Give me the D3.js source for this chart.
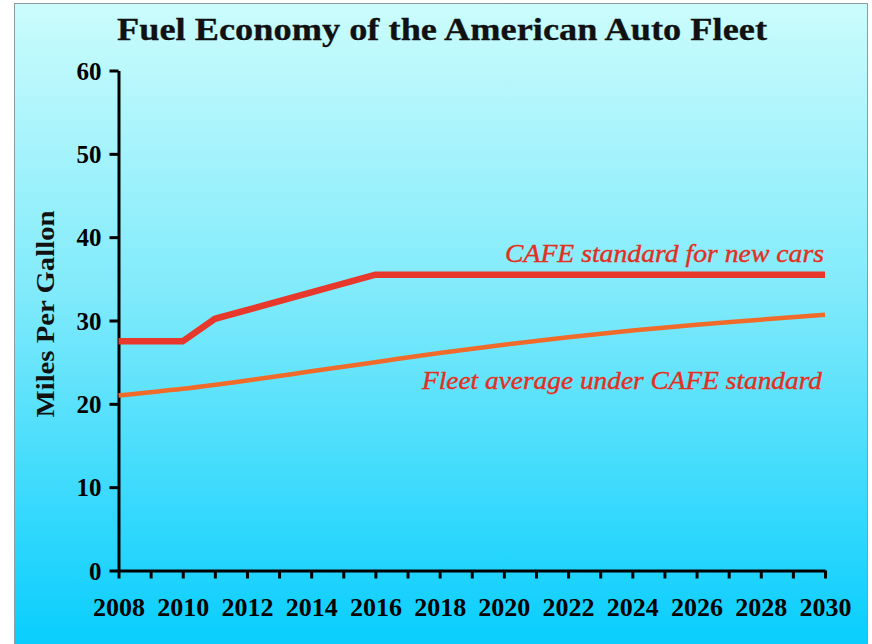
<!DOCTYPE html>
<html>
<head>
<meta charset="utf-8">
<script src="https://cdn.jsdelivr.net/npm/d3@7"></script>
<style>
  html, body { margin: 0; padding: 0; background: #ffffff; }
  svg { display: block; }
  text { font-family: "Liberation Serif", "DejaVu Serif", serif; }
</style>
</head>
<body>
<svg id="chart" width="872" height="644"></svg>
<script>
// Model years on the horizontal axis
const years = d3.range(2008, 2031);
const yearLabels = d3.range(2008, 2031, 2);
const mpgTicks = [0, 10, 20, 30, 40, 50, 60];

// CAFE standard for new cars (mpg)
const cafeYears = [2008, 2010, 2011, 2016, 2030];
const cafeMpg   = [27.5, 27.5, 30.2, 35.5, 35.5];

// Fleet average under the CAFE standard (mpg)
const fleetYears = [2008, 2010, 2012, 2014, 2016, 2018, 2020, 2022, 2024, 2026, 2028, 2030];
const fleetMpg   = [21.0, 21.8, 22.8, 23.9, 25.0, 26.1, 27.1, 28.0, 28.8, 29.5, 30.1, 30.7];

const svg = d3.select("#chart");

// Backdrop panel with vertical cyan gradient
const defs = svg.append("defs");
const grad = defs.append("linearGradient")
  .attr("id", "bg").attr("x1", 0).attr("y1", 0).attr("x2", 0).attr("y2", 1);
grad.append("stop").attr("offset", "0%").attr("stop-color", "#cbfcfc");
grad.append("stop").attr("offset", "45%").attr("stop-color", "#7feafb");
grad.append("stop").attr("offset", "100%").attr("stop-color", "#05cdfd");

svg.append("rect")
  .attr("x", 14.5).attr("y", 3.5).attr("width", 853).attr("height", 650)
  .attr("fill", "url(#bg)")
  .attr("stroke", "#8c9c9e").attr("stroke-width", 1);

const x = d3.scaleLinear().domain([2008, 2030]).range([118.5, 825]);
const y = d3.scaleLinear().domain([0, 60]).range([570.5, 70.5]);

// Fit a text element to a given width
function fit(sel, w) {
  sel.attr("textLength", w).attr("lengthAdjust", "spacingAndGlyphs");
  return sel;
}

// Title
fit(svg.append("text")
  .attr("x", 442).attr("y", 40)
  .attr("text-anchor", "middle")
  .attr("font-size", 31).attr("font-weight", "bold").attr("fill", "#111")
  .attr("stroke", "#111").attr("stroke-width", 0.3)
  .text("Fuel Economy of the American Auto Fleet"), 650);

// Y axis
const yAxis = svg.append("g")
  .attr("transform", `translate(${x.range()[0]},0)`)
  .call(d3.axisLeft(y).tickValues(mpgTicks).tickSize(9).tickPadding(8).tickSizeOuter(0));
yAxis.select(".domain").attr("stroke", "#000").attr("stroke-width", 3);
yAxis.selectAll(".tick line").attr("stroke", "#000").attr("stroke-width", 3);
yAxis.selectAll(".tick text")
  .attr("font-family", "Liberation Serif, serif")
  .attr("font-size", 25).attr("font-weight", "bold").attr("fill", "#000")
  .attr("dy", "0.34em");

// X axis: a tick every year, labels every other year
const xAxis = svg.append("g")
  .attr("transform", `translate(0,${y(0)})`)
  .call(d3.axisBottom(x).tickValues(years).tickSize(8).tickSizeOuter(0)
    .tickFormat(d => (yearLabels.includes(d) ? d3.format("d")(d) : "")));
xAxis.select(".domain").attr("stroke", "#000").attr("stroke-width", 3);
xAxis.selectAll(".tick line").attr("stroke", "#000").attr("stroke-width", 3);
xAxis.selectAll(".tick text")
  .attr("font-family", "Liberation Serif, serif")
  .attr("font-size", 26).attr("font-weight", "bold").attr("fill", "#000")
  .attr("y", 27).attr("dy", "0.71em");

// Y axis title
fit(svg.append("text")
  .attr("transform", "translate(54,314) rotate(-90)")
  .attr("text-anchor", "middle")
  .attr("font-size", 26).attr("font-weight", "bold").attr("fill", "#111")
  .text("Miles Per Gallon"), 207);

const line = d3.line().x(d => x(d[0])).y(d => y(d[1]));

// Fleet average line
svg.append("path")
  .datum(d3.zip(fleetYears, fleetMpg))
  .attr("d", line.curve(d3.curveMonotoneX))
  .attr("fill", "none").attr("stroke", "#f06a2a").attr("stroke-width", 4.5);

// CAFE standard line
svg.append("path")
  .datum(d3.zip(cafeYears, cafeMpg))
  .attr("d", d3.line().x(d => x(d[0])).y(d => y(d[1])))
  .attr("fill", "none").attr("stroke", "#e8372b").attr("stroke-width", 6.5)
  .attr("stroke-linejoin", "miter");

// Series annotations
fit(svg.append("text")
  .attr("x", 824).attr("y", 262)
  .attr("text-anchor", "end")
  .attr("font-size", 26).attr("font-style", "italic").attr("fill", "#e2301e")
  .attr("stroke", "#e2301e").attr("stroke-width", 0.4)
  .text("CAFE standard for new cars"), 319);

fit(svg.append("text")
  .attr("x", 822).attr("y", 389)
  .attr("text-anchor", "end")
  .attr("font-size", 26).attr("font-style", "italic").attr("fill", "#e2301e")
  .attr("stroke", "#e2301e").attr("stroke-width", 0.4)
  .text("Fleet average under CAFE standard"), 400);
</script>
</body>
</html>
